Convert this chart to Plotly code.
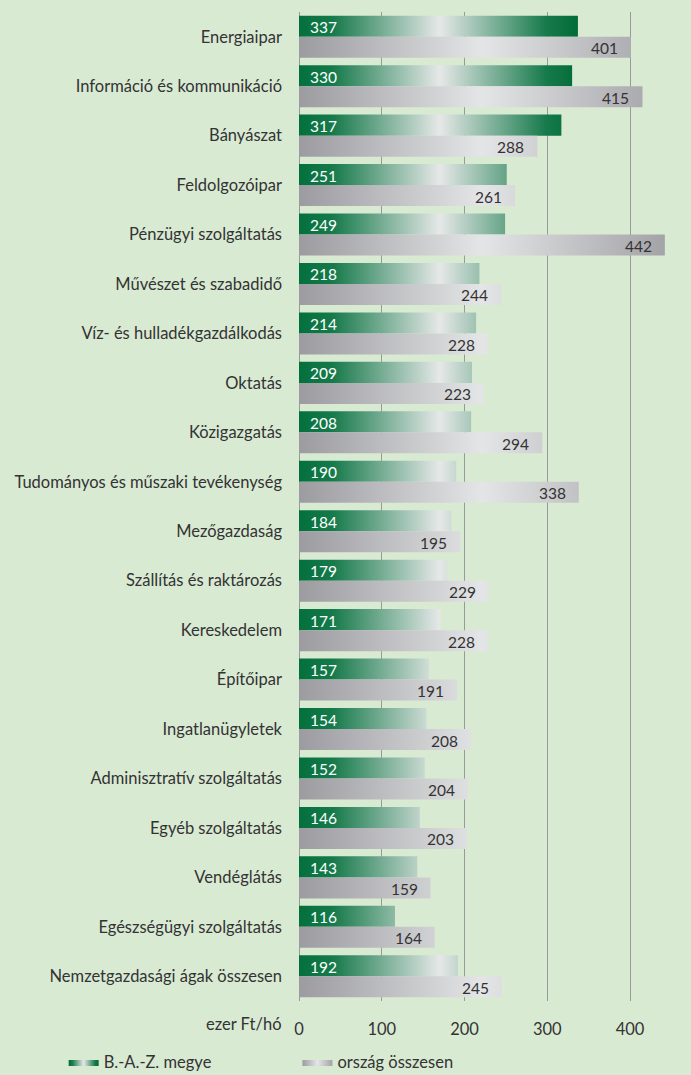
import plotly.graph_objects as go

# Bruttó átlagkereset nemzetgazdasági áganként (ezer Ft/hó)
categories = [
    "Energiaipar",
    "Információ és kommunikáció",
    "Bányászat",
    "Feldolgozóipar",
    "Pénzügyi szolgáltatás",
    "Művészet és szabadidő",
    "Víz- és hulladékgazdálkodás",
    "Oktatás",
    "Közigazgatás",
    "Tudományos és műszaki tevékenység",
    "Mezőgazdaság",
    "Szállítás és raktározás",
    "Kereskedelem",
    "Építőipar",
    "Ingatlanügyletek",
    "Adminisztratív szolgáltatás",
    "Egyéb szolgáltatás",
    "Vendéglátás",
    "Egészségügyi szolgáltatás",
    "Nemzetgazdasági ágak összesen",
]
baz_megye = [337, 330, 317, 251, 249, 218, 214, 209, 208, 190,
             184, 179, 171, 157, 154, 152, 146, 143, 116, 192]
orszag = [401, 415, 288, 261, 442, 244, 228, 223, 294, 338,
          195, 229, 228, 191, 208, 204, 203, 159, 164, 245]

x_ticks = [0, 100, 200, 300, 400]

BG = "#d9ead3"
FONT = "Lato, 'Open Sans', sans-serif"
TXT = "#333333"
HALF = 0.425  # bar thickness in category units

green_scale = [[0, "#03703c"], [0.12, "#167a4b"], [0.5, "#e6e8e8"],
               [0.88, "#167a4b"], [1, "#006a35"]]
gray_scale = [[0, "#9b9ba0"], [0.5, "#e4e5e6"], [1, "#a3a3a8"]]


def bar_polys(values, top):
    xs, ys = [], []
    for i, v in enumerate(values):
        y0 = i - HALF if top else i
        y1 = i if top else i + HALF
        xs += [0, v, v, 0, 0, None]
        ys += [y0, y0, y1, y1, y0, None]
    return xs, ys


fig = go.Figure()

gx, gy = bar_polys(baz_megye, True)
fig.add_trace(go.Scatter(
    x=gx, y=gy, mode="lines", fill="toself",
    line=dict(width=0, color="#03703c"),
    fillgradient=dict(type="horizontal", colorscale=green_scale, start=0, stop=340),
    name="B.-A.-Z. megye", hoveron="fills", legend="legend",
))

ox, oy = bar_polys(orszag, False)
fig.add_trace(go.Scatter(
    x=ox, y=oy, mode="lines", fill="toself",
    line=dict(width=0, color="#a3a3a8"),
    fillgradient=dict(type="horizontal", colorscale=gray_scale, start=0, stop=442),
    name="ország összesen", hoveron="fills", legend="legend2",
))

# value labels
for i, (g, o) in enumerate(zip(baz_megye, orszag)):
    fig.add_annotation(x=0, y=i - HALF / 2, text=str(g), showarrow=False,
                       xanchor="left", xshift=9, yshift=-1,
                       font=dict(family=FONT, size=15.5, color="white"))
    fig.add_annotation(x=o, y=i + HALF / 2, text=str(o), showarrow=False,
                       xanchor="right", xshift=-11, yshift=-1,
                       font=dict(family=FONT, size=15.5, color=TXT))

fig.add_annotation(x=0, y=0, xref="paper", yref="paper", yshift=-23,
                   yanchor="middle", text="ezer Ft/hó", showarrow=False,
                   xanchor="right", xshift=-15,
                   font=dict(family=FONT, size=16.5, color=TXT))

fig.update_xaxes(range=[0, 470], tickvals=x_ticks, showgrid=True,
                 gridcolor="#999999", gridwidth=1.4, zeroline=True,
                 zerolinecolor="#999999", zerolinewidth=1.4, showline=False,
                 ticks="", ticklabelstandoff=16, automargin=False,
                 tickfont=dict(family=FONT, size=16.5, color=TXT))
fig.update_yaxes(range=[len(categories) - 0.5, -0.5],
                 tickvals=list(range(len(categories))), ticktext=categories,
                 showgrid=False, zeroline=False, ticks="", ticklabelstandoff=16,
                 automargin=False,
                 tickfont=dict(family=FONT, size=16.5, color=TXT))

fig.update_layout(
    width=691, height=1075,
    margin=dict(l=299, r=3, t=12, b=74, autoexpand=False),
    paper_bgcolor=BG, plot_bgcolor=BG,
    showlegend=True,
    legend=dict(x=-0.605, y=-0.062, xanchor="left", yanchor="middle",
                orientation="h", bgcolor="rgba(0,0,0,0)",
                font=dict(family=FONT, size=16.5, color=TXT)),
    legend2=dict(x=-0.004, y=-0.062, xanchor="left", yanchor="middle",
                 orientation="h", bgcolor="rgba(0,0,0,0)",
                 font=dict(family=FONT, size=16.5, color=TXT)),
)

fig.write_html("out.html", config={"displayModeBar": False},
               post_script="document.body.style.margin='0';")
